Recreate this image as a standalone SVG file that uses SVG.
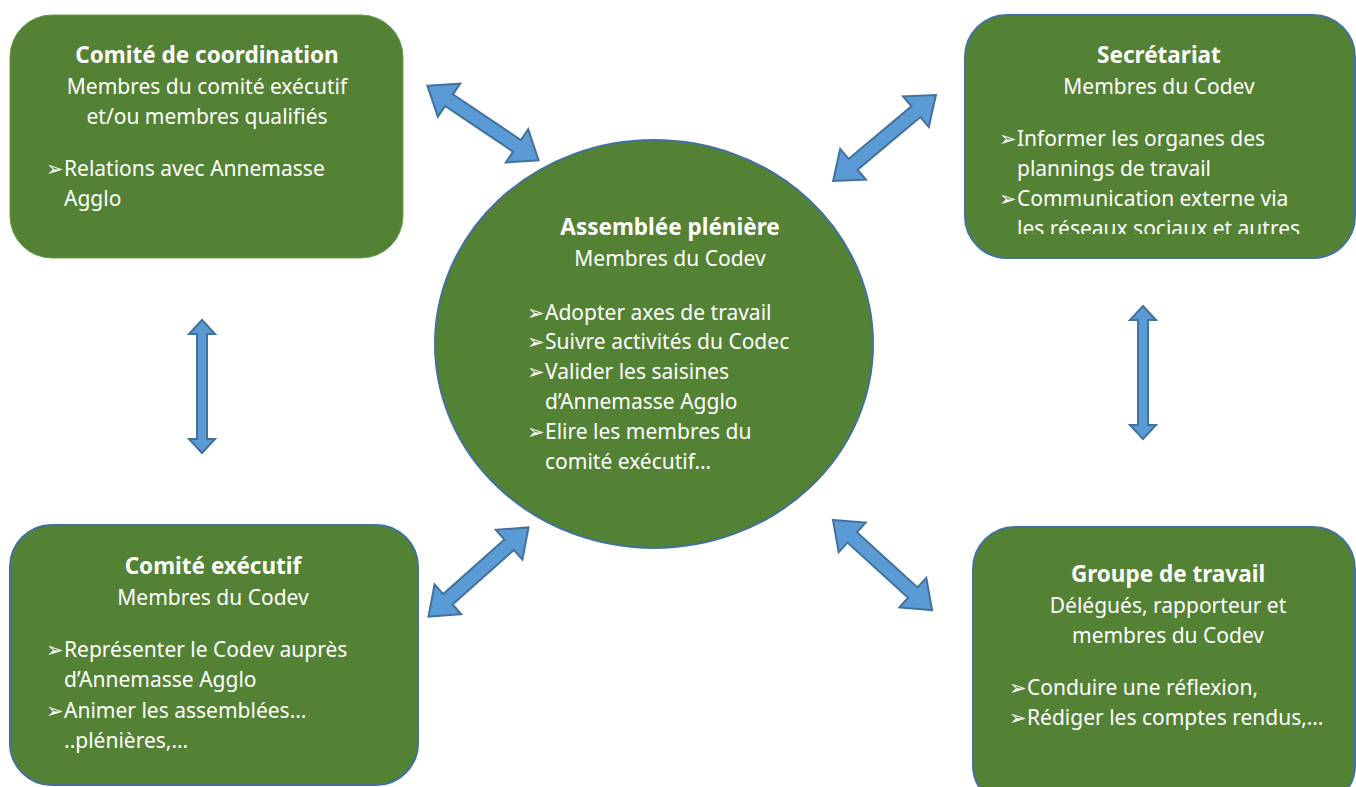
<svg xmlns="http://www.w3.org/2000/svg" width="1356" height="787" viewBox="0 0 1356 787">
<style>
.box{fill:#548235;stroke:#41719C;stroke-width:2}
.box0{fill:#548235;stroke:#6b9a4a;stroke-width:1}
.t{font-family:"Noto Sans","Open Sans",sans-serif;fill:#ffffff;font-size:21px}
.b{font-weight:bold;font-size:22.5px}
.c{text-anchor:middle}
.arr{fill:#5B9BD5;stroke:#41719C;stroke-width:2;stroke-linejoin:miter}
</style>
<defs>
<polygon id="darrow" points="-67,0 -41,-20 -41,-7 41,-7 41,-20 67,0 41,20 41,7 -41,7 -41,20"/>
<polygon id="varrow" points="-66.5,0 -52.5,-13 -52.5,-5 52.5,-5 52.5,-13 66.5,0 52.5,13 52.5,5 -52.5,5 -52.5,13"/>
<clipPath id="clipSec"><rect x="965" y="15" width="390" height="219"/></clipPath>
</defs>
<rect width="1356" height="787" fill="#ffffff"/>
<g id="connectors">
<use href="#darrow" class="arr" transform="translate(483,123) rotate(33.9)"/>
<use href="#darrow" class="arr" transform="translate(884.5,138) rotate(-39.9)"/>
<use href="#darrow" class="arr" transform="translate(478.5,572) rotate(-41.7)"/>
<use href="#darrow" class="arr" transform="translate(882.5,565) rotate(42.3)"/>
<use href="#varrow" class="arr" transform="translate(202,386.5) rotate(90)"/>
<use href="#varrow" class="arr" transform="translate(1143,372.5) rotate(90)"/>
</g>
<g id="coordination">
<rect class="box0" x="10" y="15" width="393" height="243" rx="42"/>
<text class="t b c" x="207" y="63">Comité de coordination</text>
<text class="t c" x="207" y="94">Membres du comité exécutif</text>
<text class="t c" x="207" y="124">et/ou membres qualifiés</text>
<text class="t" x="46" y="176">➢</text>
<text class="t" x="64" y="176">Relations avec Annemasse</text>
<text class="t" x="64" y="206">Agglo</text>
</g>
<g id="secretariat">
<rect class="box" x="965" y="15" width="390" height="243" rx="42"/>
<text class="t b c" x="1159" y="63">Secrétariat</text>
<text class="t c" x="1159" y="94">Membres du Codev</text>
<g clip-path="url(#clipSec)">
<text class="t" x="999" y="146">➢</text>
<text class="t" x="1017" y="146">Informer les organes des</text>
<text class="t" x="1017" y="176">plannings de travail</text>
<text class="t" x="999" y="206">➢</text>
<text class="t" x="1017" y="206">Communication externe via</text>
<text class="t" x="1017" y="236">les réseaux sociaux et autres</text>
</g>
</g>
<g id="assemblee">
<ellipse class="box" cx="654" cy="344" rx="219" ry="204"/>
<text class="t b c" x="670" y="235">Assemblée plénière</text>
<text class="t c" x="670" y="266">Membres du Codev</text>
<text class="t" x="527" y="320">➢</text>
<text class="t" x="545" y="320">Adopter axes de travail</text>
<text class="t" x="527" y="349">➢</text>
<text class="t" x="545" y="349">Suivre activités du Codec</text>
<text class="t" x="527" y="379">➢</text>
<text class="t" x="545" y="379">Valider les saisines</text>
<text class="t" x="545" y="409">d’Annemasse Agglo</text>
<text class="t" x="527" y="439">➢</text>
<text class="t" x="545" y="439">Elire les membres du</text>
<text class="t" x="545" y="469">comité exécutif…</text>
</g>
<g id="executif">
<rect class="box" x="10" y="525" width="408" height="260" rx="42"/>
<text class="t b c" x="213" y="574">Comité exécutif</text>
<text class="t c" x="213" y="605">Membres du Codev</text>
<text class="t" x="46" y="657">➢</text>
<text class="t" x="64" y="657">Représenter le Codev auprès</text>
<text class="t" x="64" y="687">d’Annemasse Agglo</text>
<text class="t" x="46" y="718">➢</text>
<text class="t" x="64" y="718">Animer les assemblées…</text>
<text class="t" x="64" y="748">..plénières,…</text>
</g>
<g id="groupe">
<rect class="box" x="973" y="527" width="382" height="280" rx="42"/>
<text class="t b c" x="1168" y="582">Groupe de travail</text>
<text class="t c" x="1168" y="613">Délégués, rapporteur et</text>
<text class="t c" x="1168" y="643">membres du Codev</text>
<text class="t" x="1009" y="695">➢</text>
<text class="t" x="1027" y="695">Conduire une réflexion,</text>
<text class="t" x="1009" y="725">➢</text>
<text class="t" x="1027" y="725">Rédiger les comptes rendus,…</text>
</g>
</svg>
